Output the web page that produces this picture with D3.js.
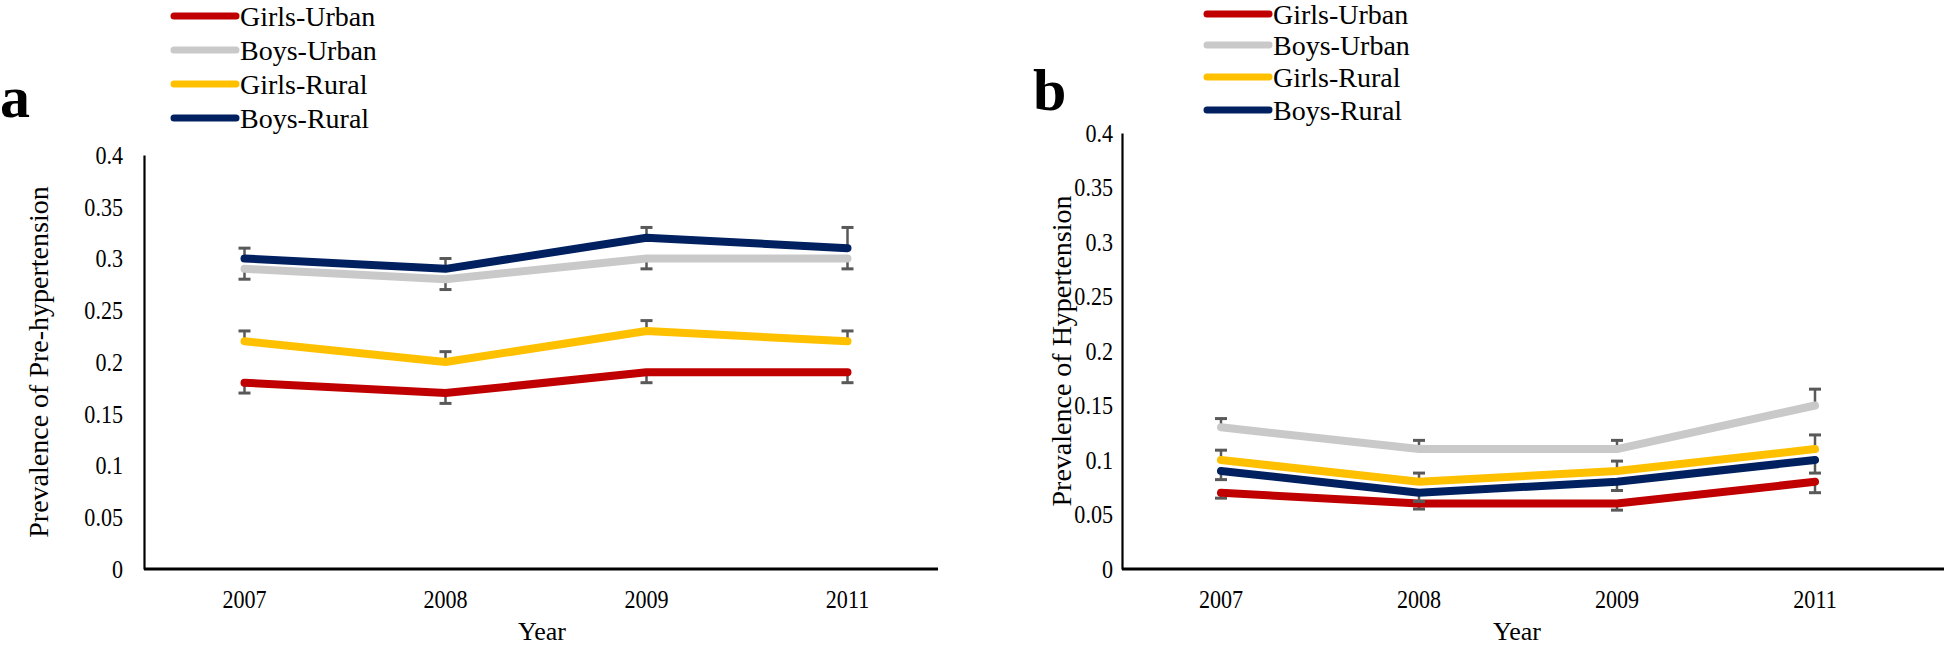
<!DOCTYPE html>
<html>
<head>
<meta charset="utf-8">
<script src="https://cdn.jsdelivr.net/npm/d3@7"></script>
<style>
  html, body { margin: 0; padding: 0; background: #fff; }
  svg, svg text { font-family: "Liberation Serif", "Times New Roman", serif; }
</style>
</head>
<body>
<div id="chart"></div>
<script>
// data
const years = ["2007", "2008", "2009", "2011"];
const seriesNames = ["Girls-Urban", "Boys-Urban", "Girls-Rural", "Boys-Rural"];
const yTicks = [0, 0.05, 0.1, 0.15, 0.2, 0.25, 0.3, 0.35, 0.4];

// prevalence of pre-hypertension (panel a)
const preGirlsUrban = [0.18, 0.17, 0.19, 0.19];
const preBoysUrban  = [0.29, 0.28, 0.30, 0.30];
const preGirlsRural = [0.22, 0.20, 0.23, 0.22];
const preBoysRural  = [0.30, 0.29, 0.32, 0.31];
// one-sided error bars (negative = drawn downward)
const preErrGirlsUrban = [-0.01, -0.01, -0.01, -0.01];
const preErrBoysUrban  = [-0.01, -0.01, -0.01, -0.01];
const preErrGirlsRural = [0.01, 0.01, 0.01, 0.01];
const preErrBoysRural  = [0.01, 0.01, 0.01, 0.02];

// prevalence of hypertension (panel b)
const hypGirlsUrban = [0.07, 0.06, 0.06, 0.08];
const hypBoysUrban  = [0.13, 0.11, 0.11, 0.15];
const hypGirlsRural = [0.10, 0.08, 0.09, 0.11];
const hypBoysRural  = [0.09, 0.07, 0.08, 0.10];
const hypErrGirlsUrban = [-0.005, -0.005, -0.006, -0.01];
const hypErrBoysUrban  = [0.008, 0.008, 0.008, 0.015];
const hypErrGirlsRural = [0.009, 0.008, 0.009, 0.013];
const hypErrBoysRural  = [-0.008, -0.008, -0.008, -0.012];

const colors = ["#c00000", "#c9c9c9", "#ffc000", "#002060"];
const serif = "'Liberation Serif', 'Times New Roman', serif";
const squeeze = 0.85; // tick labels in the source look horizontally condensed

const W = 1944, H = 646;
const svg = d3.select("#chart").append("svg")
  .attr("width", W)
  .attr("height", H);

function drawPanel(cfg) {
  const x = d3.scaleBand().domain(years).range([cfg.left, cfg.right]);
  const y = d3.scaleLinear().domain([0, 0.4]).range([cfg.bottom, cfg.top]);
  const g = svg.append("g");

  // y axis
  const yAxis = g.append("g")
    .attr("transform", `translate(${cfg.left},0)`)
    .call(d3.axisLeft(y).tickValues(yTicks).tickSize(0).tickPadding(cfg.yPad)
      .tickFormat(d => String(+d.toFixed(2))));
  yAxis.attr("font-family", null);
  yAxis.select(".domain").attr("stroke", "#000").attr("stroke-width", 2.2);
  yAxis.selectAll("text")
    .style("font-family", serif)
    .attr("font-size", 26)
    .attr("x", -cfg.yPad / squeeze)
    .attr("transform", `scale(${squeeze},1)`)
    .attr("fill", "#000");

  // x axis
  const xAxis = g.append("g")
    .attr("transform", `translate(0,${cfg.bottom})`)
    .call(d3.axisBottom(x).tickSize(0).tickPadding(21));
  xAxis.attr("font-family", null);
  xAxis.select(".domain")
    .attr("d", `M${cfg.left},0H${cfg.axisEnd}`)
    .attr("stroke", "#000").attr("stroke-width", 3);
  xAxis.selectAll("text")
    .style("font-family", serif)
    .attr("font-size", 26)
    .attr("transform", `scale(${squeeze},1)`)
    .attr("fill", "#000");

  const cx = d => x(d) + x.bandwidth() / 2;

  // series: error bars then line
  cfg.values.forEach((vals, i) => {
    const errs = cfg.errors[i];
    const eb = g.append("g").attr("stroke", "#595959").attr("stroke-width", 2.5);
    years.forEach((yr, j) => {
      const y0 = y(vals[j]), y1 = y(vals[j] + errs[j]);
      eb.append("line").attr("x1", cx(yr)).attr("x2", cx(yr)).attr("y1", y0).attr("y2", y1);
      eb.append("line").attr("x1", cx(yr) - 6).attr("x2", cx(yr) + 6)
        .attr("y1", y1).attr("y2", y1).attr("stroke-width", 3);
    });
    const line = d3.line().x((d, j) => cx(years[j])).y(d => y(d));
    g.append("path")
      .datum(vals)
      .attr("d", line)
      .attr("fill", "none")
      .attr("stroke", colors[i])
      .attr("stroke-width", 8)
      .attr("stroke-linecap", "round")
      .attr("stroke-linejoin", "round");
  });

  // legend
  const lg = g.append("g");
  seriesNames.forEach((name, i) => {
    const ly = cfg.legendRows[i];
    lg.append("line")
      .attr("x1", cfg.legendX).attr("x2", cfg.legendX + 62)
      .attr("y1", ly).attr("y2", ly)
      .attr("stroke", colors[i]).attr("stroke-width", 7)
      .attr("stroke-linecap", "round");
    lg.append("text")
      .attr("x", cfg.legendX + 66).attr("y", ly)
      .attr("dominant-baseline", "central")
      .attr("font-size", 28)
      .text(name);
  });

  // panel letter
  g.append("text")
    .attr("x", cfg.letterX).attr("y", cfg.letterY)
    .attr("font-size", 60).attr("font-weight", "bold")
    .text(cfg.letter);

  // axis titles
  g.append("text")
    .attr("transform", `translate(${cfg.titleX},${(cfg.top + cfg.bottom) / 2}) rotate(-90)`)
    .attr("text-anchor", "middle")
    .attr("dominant-baseline", "central")
    .attr("font-size", 28)
    .text(cfg.yTitle);

  g.append("text")
    .attr("x", cfg.yearX).attr("y", 640)
    .attr("text-anchor", "middle")
    .attr("font-size", 26)
    .text("Year");
}

drawPanel({
  left: 144, right: 948, axisEnd: 938, top: 155, bottom: 569, yPad: 21,
  values: [preGirlsUrban, preBoysUrban, preGirlsRural, preBoysRural],
  errors: [preErrGirlsUrban, preErrBoysUrban, preErrGirlsRural, preErrBoysRural],
  legendX: 174, legendRows: [16, 50, 84, 118],
  letter: "a", letterX: 0, letterY: 117,
  titleX: 38, yearX: 542, yTitle: "Prevalence of Pre-hypertension"
});

drawPanel({
  left: 1122, right: 1914, axisEnd: 1944, top: 133, bottom: 569, yPad: 9,
  values: [hypGirlsUrban, hypBoysUrban, hypGirlsRural, hypBoysRural],
  errors: [hypErrGirlsUrban, hypErrBoysUrban, hypErrGirlsRural, hypErrBoysRural],
  legendX: 1207, legendRows: [14, 45, 77, 110],
  letter: "b", letterX: 1033, letterY: 110,
  titleX: 1061, yearX: 1517, yTitle: "Prevalence of Hypertension"
});
</script>
</body>
</html>
